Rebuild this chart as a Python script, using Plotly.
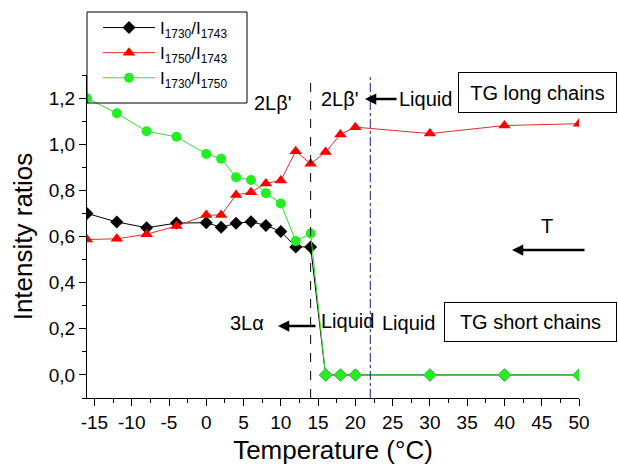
import plotly.graph_objects as go

temperature = [-16, -12, -8, -4, 0, 2, 4, 6, 8, 10, 12, 14, 16, 18, 20, 30, 40, 50]
ratio_1730_1743 = [0.70, 0.663, 0.638, 0.658, 0.66, 0.64, 0.657, 0.664, 0.648, 0.622, 0.555, 0.555,
                   0, 0, 0, 0, 0, 0]
ratio_1750_1743 = [0.587, 0.59, 0.61, 0.645, 0.693, 0.693, 0.78, 0.792, 0.83, 0.843, 0.97, 0.915,
                   0.966, 1.042, 1.074, 1.046, 1.081, 1.089]
ratio_1730_1750 = [1.199, 1.134, 1.056, 1.032, 0.958, 0.937, 0.857, 0.845, 0.788, 0.743, 0.58, 0.613,
                   0, 0, 0, 0, 0, 0]
series_names = ["I<sub>1730</sub>/I<sub>1743</sub>",
                "I<sub>1750</sub>/I<sub>1743</sub>",
                "I<sub>1730</sub>/I<sub>1750</sub>"]
x_tick_values = [-15, -10, -5, 0, 5, 10, 15, 20, 25, 30, 35, 40, 45, 50]
x_tick_labels = ["-15", "-10", "-5", "0", "5", "10", "15", "20", "25", "30", "35", "40", "45", "50"]
transition_temps = [14, 22]

FONT = "Liberation Sans, Arial, sans-serif"

fig = go.Figure()
fig.add_trace(go.Scatter(x=temperature, y=ratio_1730_1743, name=series_names[0], mode="lines+markers",
                         line=dict(color="black", width=1),
                         marker=dict(symbol="diamond", size=10, color="black")))
fig.add_trace(go.Scatter(x=temperature, y=ratio_1750_1743, name=series_names[1], mode="lines+markers",
                         line=dict(color="#D83030", width=1),
                         marker=dict(symbol="triangle-up", size=11, color="#FF0000")))
green_symbols = ["circle" if v != 0 else "diamond" for v in ratio_1730_1750]
fig.add_trace(go.Scatter(x=temperature, y=ratio_1730_1750, name=series_names[2], mode="lines+markers",
                         line=dict(color="#33DD33", width=1),
                         marker=dict(symbol=green_symbols, size=10, color="#22EE22")))

# vertical transition lines
fig.add_shape(type="line", x0=transition_temps[0], x1=transition_temps[0], y0=-0.1, y1=1.345,
              xref="x", yref="y", line=dict(color="black", width=1, dash="dash"))
fig.add_shape(type="line", x0=transition_temps[1], x1=transition_temps[1], y0=-0.1, y1=1.345,
              xref="x", yref="y", line=dict(color="#1a1a90", width=1, dash="dashdot"))

L, R, T, B = 87, 39, 75, 69
W, H = 618, 467
pw, ph = W - L - R, H - T - B


def px(x):
    return (x - L) / pw


def py(y):
    return (H - B - y) / ph


# legend frame
fig.add_shape(type="rect", xref="paper", yref="paper", x0=px(87), x1=px(247), y0=py(103), y1=py(12),
              line=dict(color="black", width=1), layer="above")


def txt(text, x, y, size=20, **kw):
    fig.add_annotation(text=text, x=px(x), y=py(y), xref="paper", yref="paper", showarrow=False,
                       xanchor="center", yanchor="middle", font=dict(size=size, color="black", family=FONT), **kw)


def arrow(xh, xt, y):
    fig.add_annotation(text="", x=px(xh), y=py(y), xref="paper", yref="paper", showarrow=True,
                       ax=xt - xh, ay=0, arrowhead=2, arrowsize=0.9, arrowwidth=2.5, arrowcolor="black")


txt("2Lβ'", 273, 103)
txt("2Lβ'", 340, 99)
arrow(365, 398, 99)
txt("Liquid", 425, 99)
txt("TG long chains", 537.5, 92.5, bordercolor="black", borderwidth=1, width=155, height=37, borderpad=1)
txt("T", 547, 226)
arrow(512, 586, 250)
txt("3Lα", 247, 323)
arrow(278, 317, 326)
txt("Liquid", 347, 321)
txt("Liquid", 408, 323)
txt("TG short chains", 530.5, 322, bordercolor="black", borderwidth=1, width=169, height=36, borderpad=1)

fig.update_layout(
    width=W, height=H,
    margin=dict(l=L, r=R, t=T, b=B, autoexpand=False),
    paper_bgcolor="white", plot_bgcolor="white",
    font=dict(family=FONT, color="black", size=19),
    separators=", ",
    showlegend=True,
    legend=dict(x=px(98), y=py(10), xanchor="left", yanchor="top", borderwidth=0,
                bgcolor="rgba(0,0,0,0)", font=dict(size=17, family=FONT), itemwidth=52, tracegroupgap=0),
    xaxis=dict(range=[-16, 50], tickmode="array", tickvals=x_tick_values, ticktext=x_tick_labels,
               showgrid=False, zeroline=False,
               showline=True, linecolor="black", linewidth=1,
               ticks="outside", ticklen=7, tickcolor="black",
               minor=dict(dtick=2.5, tick0=-15, ticks="outside", ticklen=4, tickcolor="black"),
               tickfont=dict(size=19),
               title=dict(text="Temperature (°C)", font=dict(size=26), standoff=9)),
    yaxis=dict(range=[-0.1, 1.3], tick0=0, dtick=0.2, tickformat=".1f", showgrid=False, zeroline=False,
               showline=True, linecolor="black", linewidth=1,
               ticks="outside", ticklen=7, tickcolor="black",
               minor=dict(dtick=0.1, tick0=0, ticks="outside", ticklen=4, tickcolor="black"),
               tickfont=dict(size=19),
               title=dict(text="Intensity ratios", font=dict(size=26), standoff=8)),
)

fig.write_html("out.html")
